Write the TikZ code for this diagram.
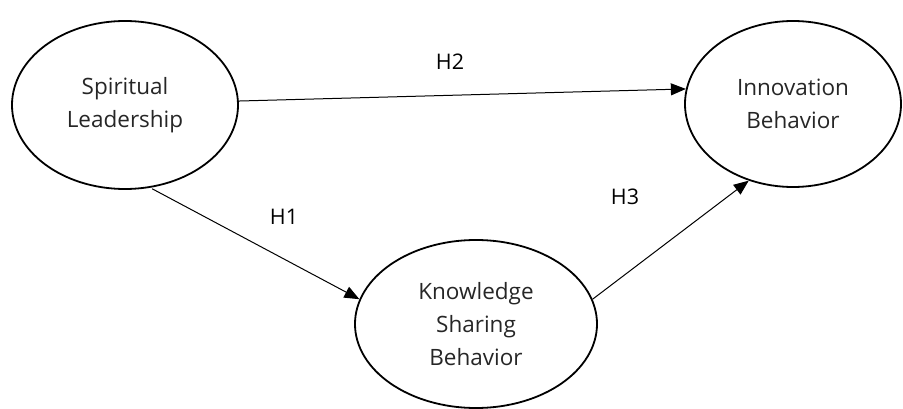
\documentclass[tikz,border=0pt]{standalone}
\usepackage{fontspec}
\setmainfont{Open Sans}
\usetikzlibrary{shapes}
\usetikzlibrary{arrows.meta}

\begin{document}
\begin{tikzpicture}[x=1pt, y=-1pt, >={Triangle[length=15pt,width=12pt]},
  construct/.style={draw, ellipse, line width=1.8pt, inner sep=0pt, align=center,
    font=\fontsize{22.5}{33}\selectfont, text=black!85},
  hyp/.style={font=\fontsize{21.5}{24}\selectfont}]
  \useasboundingbox (0,0) rectangle (903,409);
  \node[name=sl, construct, minimum width=226pt, minimum height=168pt] at (125,105) {Spiritual\\Leadership};
  \node[name=ib, construct, minimum width=216pt, minimum height=166pt] at (793,104) {Innovation\\Behavior};
  \node[name=ks, construct, minimum width=242pt, minimum height=168pt] at (476,324) {Knowledge\\Sharing\\Behavior};
  \node[name=h2, hyp] at (450,62) {H2};
  \node[name=h1, hyp] at (284,217) {H1};
  \node[name=h3, hyp] at (625,197) {H3};
  \draw[->, line width=1pt] (sl.2) to (ib.172.5);
  \draw[->, line width=1pt, shorten <=2pt] (sl.-73) to (ks.168);
  \draw[->, line width=1pt] (ks.12) to (ib.240);
\end{tikzpicture}
\end{document}
